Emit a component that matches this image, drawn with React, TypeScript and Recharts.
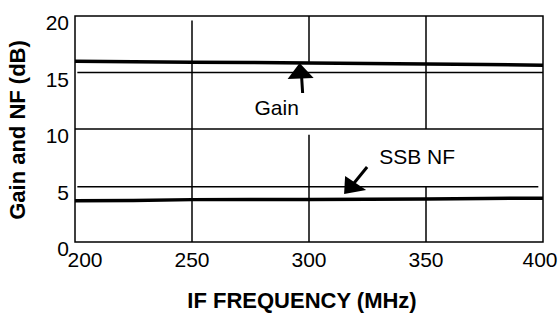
import { LineChart, Line, XAxis, YAxis, ReferenceLine, ReferenceArea, ReferenceDot, Label } from 'recharts';

const freqs = [200, 225, 250, 275, 300, 325, 350, 375, 400];
const gain = [16.0, 15.95, 15.9, 15.88, 15.85, 15.8, 15.75, 15.7, 15.65];
const ssbNf = [3.65, 3.68, 3.75, 3.76, 3.77, 3.78, 3.8, 3.85, 3.88];

const xTicks = [200, 250, 300, 350, 400];
const yTicks = [0, 5, 10, 15, 20];

// grid pieces as drawn in the original (some are broken around the labels)
const vGrid: [number, number, number][] = [
  [250, 19.6, 0],
  [300, 20, 15.8],
  [300, 9.5, 0],
  [350, 20, 10],
  [350, 4.9, 0],
];
const hGrid: [number, number, number][] = [
  [15, 201, 400],
  [10, 200, 400],
  [4.9, 201, 398],
];

const data = freqs.map((f, i) => ({ f, gain: gain[i], nf: ssbNf[i] }));

const font = 'Liberation Sans, Arial, sans-serif';

function XTick({ x, y, payload }: any) {
  const v = payload.value;
  const dx = v === 200 ? 10 : v === 400 ? -3 : 0;
  return (
    <text x={x + dx} y={y} dy={17} textAnchor="middle" fontSize={21} fontFamily={font} fill="#000">
      {v}
    </text>
  );
}

function YTick({ x, y, payload }: any) {
  return (
    <text x={x} y={y} dy={14} textAnchor="end" fontSize={21} fontFamily={font} fill="#000">
      {payload.value}
    </text>
  );
}

function GainArrow({ cx, cy }: any) {
  return (
    <g>
      <polygon points={`${cx},${cy} ${cx - 12},${cy + 16} ${cx + 14},${cy + 15}`} fill="#000" />
      <line x1={cx + 2} y1={cy + 14} x2={cx + 3} y2={cy + 30} stroke="#000" strokeWidth={3} />
      <text x={cx - 23} y={cy + 52} textAnchor="middle" fontSize={21} fontFamily={font} fill="#000">
        Gain
      </text>
    </g>
  );
}

function NfArrow({ cx, cy }: any) {
  return (
    <g>
      <polygon points={`${cx},${cy} ${cx + 1},${cy - 18} ${cx + 22},${cy - 4}`} fill="#000" />
      <line x1={cx + 10} y1={cy - 11} x2={cx + 23} y2={cy - 27} stroke="#000" strokeWidth={3} />
      <text x={cx + 73} y={cy - 29.5} textAnchor="middle" fontSize={21} fontFamily={font} fill="#000">
        SSB NF
      </text>
    </g>
  );
}

export default function App() {
  return (
    <div style={{ position: 'absolute', left: 0, top: 0, background: '#fff' }}>
      <LineChart width={558} height={314} data={data} margin={{ top: 16, right: 15, bottom: 42, left: 20 }}>
        <XAxis
          dataKey="f"
          type="number"
          domain={[200, 400]}
          ticks={xTicks}
          axisLine={false}
          tickLine={false}
          height={30}
          tick={<XTick />}
          interval={0}
        >
          <Label
            content={() => (
              <text x={302} y={308} textAnchor="middle" fontSize={22} fontWeight="bold" fontFamily={font} fill="#000">
                IF FREQUENCY (MHz)
              </text>
            )}
          />
        </XAxis>
        <YAxis
          type="number"
          domain={[0, 20]}
          ticks={yTicks}
          axisLine={false}
          tickLine={false}
          width={55}
          tickMargin={0}
          tick={<YTick />}
          interval={0}
        >
          <Label
            content={() => (
              <text
                x={25}
                y={130}
                transform="rotate(-90 25 130)"
                textAnchor="middle"
                fontSize={22}
                fontWeight="bold"
                fontFamily={font}
                fill="#000"
              >
                Gain and NF (dB)
              </text>
            )}
          />
        </YAxis>
        {vGrid.map(([x, y1, y2], i) => (
          <ReferenceLine key={'v' + i} segment={[{ x, y: y1 }, { x, y: y2 }]} stroke="#000" strokeWidth={1.5} />
        ))}
        {hGrid.map(([y, x1, x2], i) => (
          <ReferenceLine key={'h' + i} segment={[{ x: x1, y }, { x: x2, y }]} stroke="#000" strokeWidth={1.5} />
        ))}
        <ReferenceArea x1={200} x2={400} y1={0} y2={20} fill="none" stroke="#000" strokeWidth={1.5} fillOpacity={0} />
        <Line dataKey="gain" stroke="#000" strokeWidth={3.5} dot={false} isAnimationActive={false} type="linear" />
        <Line dataKey="nf" stroke="#000" strokeWidth={3.5} dot={false} isAnimationActive={false} type="linear" />
        <ReferenceDot x={296} y={15.84} r={0} shape={<GainArrow />} ifOverflow="visible" />
        <ReferenceDot x={315} y={4.25} r={0} shape={<NfArrow />} ifOverflow="visible" />
      </LineChart>
    </div>
  );
}
